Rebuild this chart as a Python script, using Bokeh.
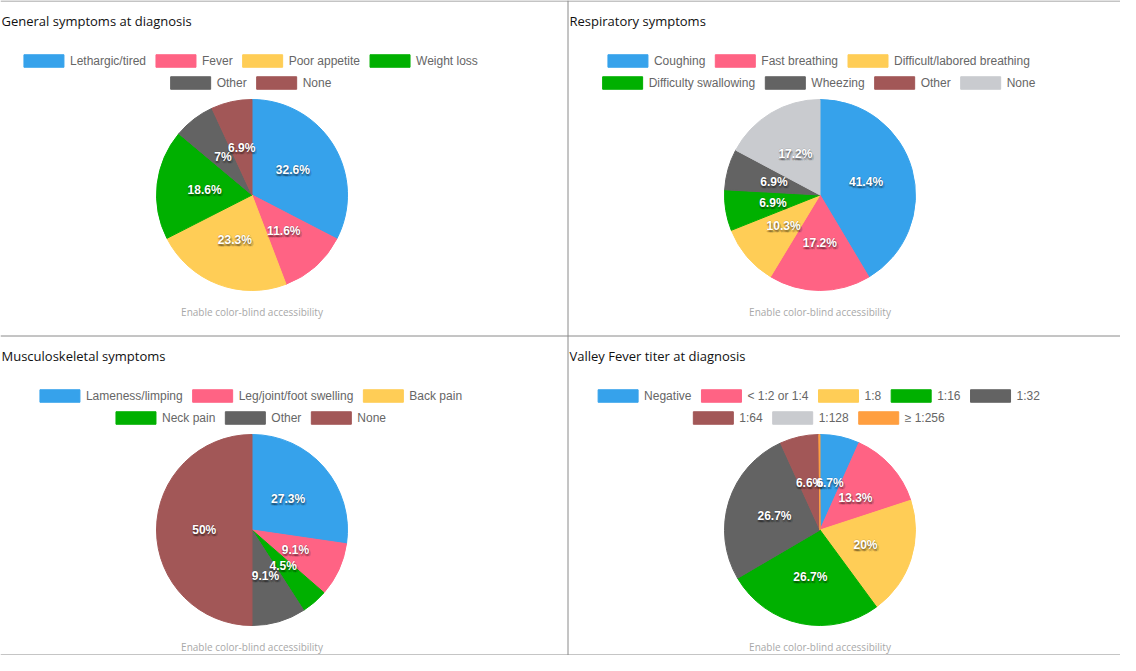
import math
from bokeh.plotting import figure
from bokeh.models import Range1d, ColumnDataSource
from bokeh.core.properties import value
from bokeh.embed import file_html
from bokeh.resources import INLINE

# ---------------- data ----------------
titles = ["General symptoms at diagnosis", "Respiratory symptoms",
          "Musculoskeletal symptoms", "Valley Fever titer at diagnosis"]

general_labels = ["Lethargic/tired", "Fever", "Poor appetite", "Weight loss", "Other", "None"]
general_values = [32.6, 11.6, 23.3, 18.6, 7, 6.9]

resp_labels = ["Coughing", "Fast breathing", "Difficult/labored breathing",
               "Difficulty swallowing", "Wheezing", "Other", "None"]
resp_values = [41.4, 17.2, 10.3, 6.9, 6.9, 0, 17.2]

musc_labels = ["Lameness/limping", "Leg/joint/foot swelling", "Back pain",
               "Neck pain", "Other", "None"]
musc_values = [27.3, 9.1, 0, 4.5, 9.1, 50]

titer_labels = ["Negative", "< 1:2 or 1:4", "1:8", "1:16", "1:32",
                "1:64", "1:128", "\u2265 1:256"]
titer_values = [6.7, 13.3, 20, 26.7, 26.7, 6.6, 0, 0.2]

general_colors = ["#36A2EB", "#FF6384", "#FFCD56", "#00B000", "#636363", "#A25757"]
resp_colors = ["#36A2EB", "#FF6384", "#FFCD56", "#00B000", "#636363", "#A25757", "#C9CBCF"]
musc_colors = ["#36A2EB", "#FF6384", "#FFCD56", "#00B000", "#636363", "#A25757"]
titer_colors = ["#36A2EB", "#FF6384", "#FFCD56", "#00B000", "#636363", "#A25757",
                "#C9CBCF", "#FF9F40"]

note_text = "Enable color-blind accessibility"

# ---------------- layout ----------------
W, H = 1120, 655
panels = [
    (0, 0, titles[0], general_labels, general_values, general_colors),
    (568, 0, titles[1], resp_labels, resp_values, resp_colors),
    (0, 335, titles[2], musc_labels, musc_values, musc_colors),
    (568, 335, titles[3], titer_labels, titer_values, titer_colors),
]
CANVAS_W = 503
CX_OFF, CY_OFF, R = 251.5, 194.5, 95.5

ARIAL = {
    'a': 556, 'b': 556, 'c': 500, 'd': 556, 'e': 556, 'f': 278, 'g': 556, 'h': 556,
    'i': 222, 'j': 222, 'k': 500, 'l': 222, 'm': 833, 'n': 556, 'o': 556, 'p': 556,
    'q': 556, 'r': 333, 's': 500, 't': 278, 'u': 556, 'v': 500, 'w': 722, 'x': 500,
    'y': 500, 'z': 500, 'A': 667, 'B': 667, 'C': 722, 'D': 722, 'E': 667, 'F': 611,
    'G': 778, 'H': 722, 'I': 278, 'J': 500, 'K': 667, 'L': 556, 'M': 833, 'N': 722,
    'O': 778, 'P': 667, 'Q': 778, 'R': 722, 'S': 667, 'T': 611, 'U': 722, 'V': 667,
    'W': 944, 'X': 667, 'Y': 667, 'Z': 611, ' ': 278, '/': 278, '-': 333, ':': 278,
    '<': 584, '\u2265': 549, '.': 278, '%': 889,
}


def text_w(s, size=12):
    return sum(ARIAL.get(c, 556) for c in s) * size / 1000.0


def Y(y):
    return H - y


p = figure(width=W, height=H, x_range=Range1d(0, W), y_range=Range1d(0, H),
           output_backend="svg", toolbar_location=None, min_border=0,
           x_axis_location=None, y_axis_location=None)
p.grid.visible = False
p.outline_line_color = None
p.background_fill_color = "white"
p.border_fill_color = "white"

# panel borders
p.segment(x0=[0, 0, 0, 567.5], y0=[Y(0.5), Y(335.5), Y(654.5), Y(0)],
          x1=[W, W, W, 567.5], y1=[Y(0.5), Y(335.5), Y(654.5), Y(H)],
          line_color="#8a8a8a", line_width=1)

for (x0, y0, title, labels, vals, colors) in panels:
    cx, cy = x0 + CX_OFF, y0 + CY_OFF
    total = sum(vals)
    starts, ends, mids, cols = [], [], [], []
    cum = 0.0
    for v, c in zip(vals, colors):
        a0 = math.pi / 2 - cum / total * 2 * math.pi
        cum += v
        a1 = math.pi / 2 - cum / total * 2 * math.pi
        mids.append((a0 + a1) / 2)
        if v > 0:
            starts.append(a0)
            ends.append(a1)
            cols.append(c)
    src = ColumnDataSource(dict(x=[cx] * len(starts), y=[Y(cy)] * len(starts),
                                start=starts, end=ends, color=cols))
    p.wedge(x="x", y="y", radius=R, start_angle="start", end_angle="end",
            direction="clock", fill_color="color", line_color="color",
            line_width=1, source=src)

    # percentage labels
    lx, ly, lt = [], [], []
    for v, m in zip(vals, mids):
        if v >= 1:
            lx.append(cx + 0.5 * R * math.cos(m))
            ly.append(Y(cy) + 0.5 * R * math.sin(m))
            lt.append(f"{v:g}%")
    for dx, dy, a in [(-1, 0, 0.10), (1, 0, 0.10), (0, -1, 0.08), (0, 1, 0.12),
                      (1, 2, 0.14), (0, 2, 0.14), (2, 2, 0.10), (-1, 2, 0.10),
                      (0, 3, 0.08), (2, 3, 0.06)]:
        p.text(x=lx, y=ly, text=lt, x_offset=dx, y_offset=dy,
               text_font=value("Liberation Sans"), text_font_style="bold",
               text_font_size="12px", text_color="black", text_alpha=a,
               text_align="center", text_baseline="middle")
    p.text(x=lx, y=ly, text=lt, text_font=value("Liberation Sans"),
           text_font_style="bold", text_font_size="12px", text_color="white",
           text_align="center", text_baseline="middle")

    # title
    p.text(x=[x0 + 1], y=[Y(y0 + 20.5)], text=[title], text_font=value("Open Sans"),
           text_font_size="13px", text_color="#111111", text_align="left",
           text_baseline="middle")

    # legend with wrapping
    widths = [40 + 6 + text_w(s) for s in labels]
    rows, cur, curw = [], [], 0
    for i, w in enumerate(widths):
        add = w if not cur else w + 10
        if cur and curw + add > CANVAS_W:
            rows.append(cur)
            cur, curw = [i], w
        else:
            cur.append(i)
            curw += add
    rows.append(cur)
    bx, by, tx, ty, tt, bc = [], [], [], [], [], []
    for ri, row in enumerate(rows):
        rw = sum(widths[i] for i in row) + 10 * (len(row) - 1)
        x = cx - rw / 2 - 1
        yy = y0 + 60.5 + 22 * ri
        for i in row:
            bx.append(x + 20)
            by.append(Y(yy))
            bc.append(colors[i])
            tx.append(x + 46)
            ty.append(Y(yy))
            tt.append(labels[i])
            x += widths[i] + 10
    p.rect(x=bx, y=by, width=40, height=12.5, fill_color=bc, line_color=bc, line_width=1)
    p.text(x=tx, y=ty, text=tt, text_font=value("Liberation Sans"),
           text_font_size="12px", text_color="#666666", text_align="left",
           text_baseline="middle")

    # note
    p.text(x=[cx], y=[Y(y0 + 311)], text=[note_text], text_font=value("Open Sans"),
           text_font_size="10px", text_color="#a8a8a8", text_align="center",
           text_baseline="middle")

open("out.html", "w").write(file_html(p, INLINE))
